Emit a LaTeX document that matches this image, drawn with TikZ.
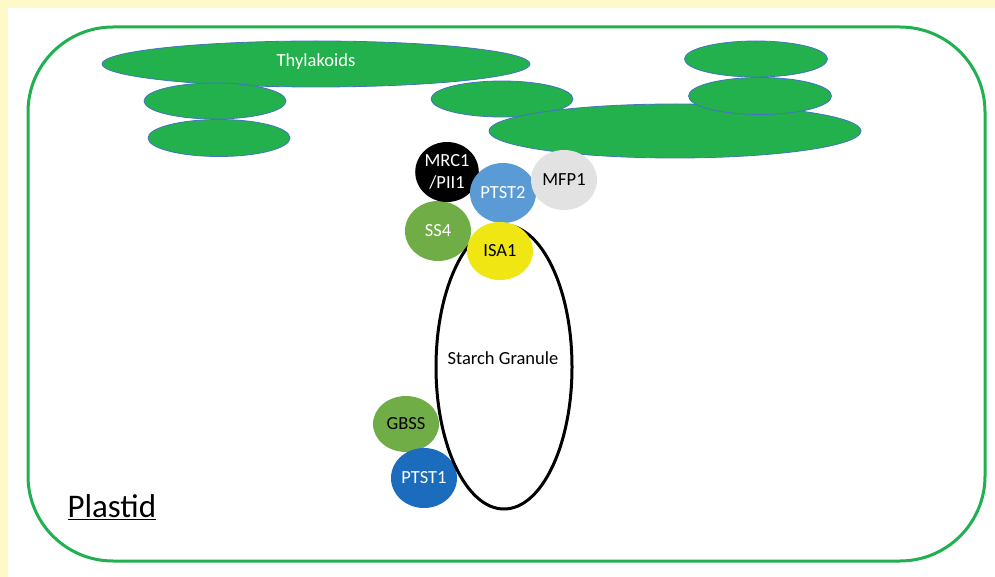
\documentclass[tikz,border=0pt]{standalone}
\usepackage{fontspec}
\setmainfont{Carlito}
\usetikzlibrary{shapes.geometric}
\definecolor{bgyellow}{RGB}{255,248,200}
\definecolor{plastidgreen}{RGB}{32,176,80}
\definecolor{thylfill}{RGB}{34,177,76}
\definecolor{thylline}{RGB}{68,114,196}
\definecolor{ptsttwo}{RGB}{91,155,213}
\definecolor{mfpgrey}{RGB}{226,226,226}
\definecolor{ssgreen}{RGB}{112,173,71}
\definecolor{isayellow}{RGB}{240,230,20}
\definecolor{ptstone}{RGB}{28,108,190}
\tikzset{
  thyl/.style={ellipse, fill=thylfill, draw=thylline, line width=0.8pt, inner sep=0pt},
  prot/.style={ellipse, inner sep=0pt, minimum width=66pt, minimum height=60pt,
    font=\fontsize{18.5}{22}\selectfont, align=center},
  lbl/.style={font=\fontsize{18.5}{22}\selectfont},
}
\begin{document}
\begin{tikzpicture}[x=1pt,y=-1pt]
\useasboundingbox (0,0) rectangle (995,577);
\fill[bgyellow] (0,0) rectangle (995,577);
\fill[white] (8,8) rectangle (995,577);
\draw[plastidgreen, line width=3pt, rounded corners=85pt] (28,27) rectangle (985,561);
% thylakoids
\node[thyl, minimum width=428pt, minimum height=46pt] (t1) at (316,64) {};
\node[thyl, minimum width=142pt, minimum height=36pt] (t2) at (215,101) {};
\node[thyl, minimum width=142pt, minimum height=37pt] (t3) at (219,138) {};
\node[thyl, minimum width=142pt, minimum height=36pt] (t4) at (502,99) {};
\node[thyl, minimum width=372pt, minimum height=54pt] (t7) at (675,131) {};
\node[thyl, minimum width=143pt, minimum height=36pt] (t5) at (756,59) {};
\node[thyl, minimum width=143pt, minimum height=37pt] (t6) at (760,96) {};
\node[lbl, text=white] (thyltext) at (316,62) {Thylakoids};
% proteins at bottom
\node[prot, fill=ssgreen, text=black, minimum height=56pt] (gbss) at (406,424) {GBSS};
\node[prot, fill=ptstone, text=white] (ptst1) at (424,478) {PTST1};
% starch granule
\node[ellipse, draw=black, line width=3pt, minimum width=136pt, minimum height=284pt, inner sep=0pt] (granule) at (504,367) {};
\node[lbl] (granuletext) at (503,358) {Starch Granule};
% proteins at top
\node[prot, fill=ssgreen, text=white] (ss4) at (438,231) {SS4};
\node[prot, fill=black, text=white, minimum width=62pt] (mrc) at (447,172) {MRC1\\/PII1};
\node[prot, fill=ptsttwo, text=white] (ptst2) at (503,193) {PTST2};
\node[prot, fill=mfpgrey, text=black] (mfp1) at (564,180) {MFP1};
\node[prot, fill=isayellow, text=black, minimum height=58pt] (isa1) at (500,251) {ISA1};
% plastid label
\node[font=\fontsize{33}{38}\selectfont, anchor=west] (plastid) at (64,507) {\underline{Plastid}};
\end{tikzpicture}
\end{document}
